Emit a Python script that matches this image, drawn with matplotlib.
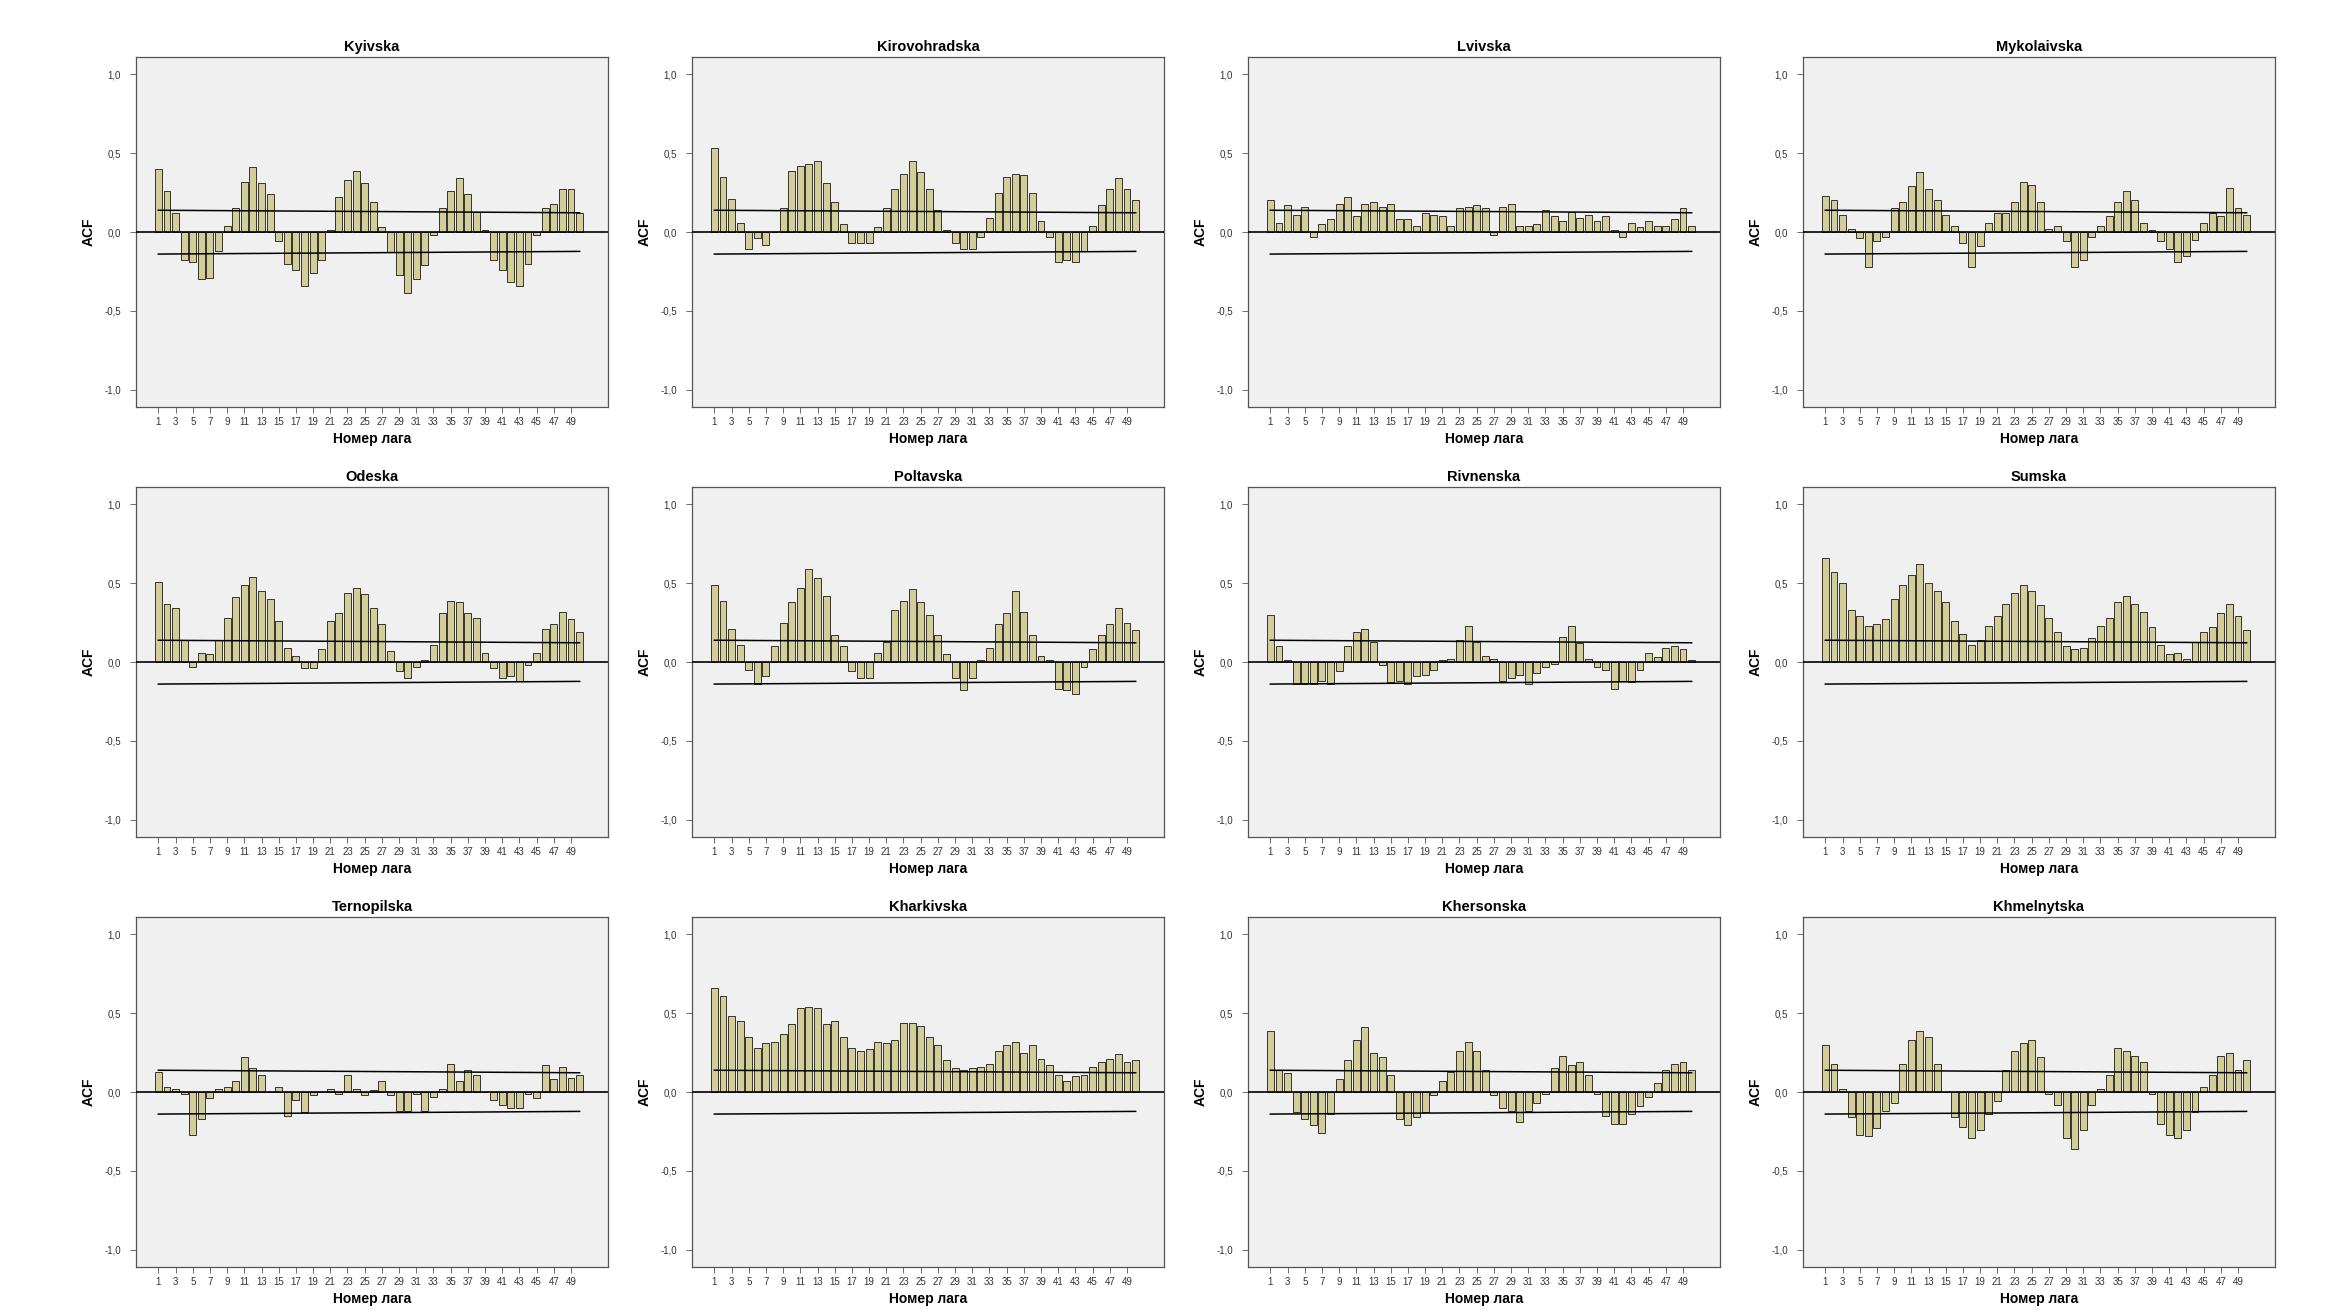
import numpy as np
import matplotlib
matplotlib.use("Agg")
import matplotlib.pyplot as plt

plt.rcParams['font.family'] = ['Liberation Sans', 'DejaVu Sans']

# lag numbers (categories)
lags = list(range(1, 51))
tick_lags = list(range(1, 50, 2))

# ACF values, lag 1..50
kyivska = [0.40, 0.26, 0.12, -0.18, -0.19, -0.30, -0.29, -0.12, 0.04, 0.15,
           0.32, 0.41, 0.31, 0.24, -0.06, -0.20, -0.24, -0.34, -0.26, -0.18,
           0.01, 0.22, 0.33, 0.39, 0.31, 0.19, 0.03, -0.13, -0.27, -0.39,
           -0.30, -0.21, -0.02, 0.15, 0.26, 0.34, 0.24, 0.13, 0.01, -0.18,
           -0.24, -0.32, -0.34, -0.20, -0.02, 0.15, 0.18, 0.27, 0.27, 0.12]
kirovohradska = [0.53, 0.35, 0.21, 0.06, -0.11, -0.04, -0.08, 0.00, 0.15, 0.39,
                 0.42, 0.43, 0.45, 0.31, 0.19, 0.05, -0.07, -0.07, -0.07, 0.03,
                 0.15, 0.27, 0.37, 0.45, 0.38, 0.27, 0.14, 0.01, -0.07, -0.11,
                 -0.11, -0.03, 0.09, 0.25, 0.35, 0.37, 0.36, 0.25, 0.07, -0.03,
                 -0.19, -0.18, -0.19, -0.12, 0.04, 0.17, 0.27, 0.34, 0.27, 0.20]
lvivska = [0.20, 0.06, 0.17, 0.11, 0.16, -0.03, 0.05, 0.08, 0.18, 0.22,
           0.10, 0.18, 0.19, 0.16, 0.18, 0.08, 0.08, 0.04, 0.12, 0.11,
           0.10, 0.04, 0.15, 0.16, 0.17, 0.15, -0.02, 0.16, 0.18, 0.04,
           0.04, 0.05, 0.14, 0.10, 0.07, 0.13, 0.09, 0.11, 0.07, 0.10,
           0.01, -0.03, 0.06, 0.03, 0.07, 0.04, 0.04, 0.08, 0.15, 0.04]
mykolaivska = [0.23, 0.20, 0.11, 0.02, -0.04, -0.22, -0.06, -0.03, 0.15, 0.19,
               0.29, 0.38, 0.27, 0.20, 0.11, 0.04, -0.07, -0.22, -0.09, 0.06,
               0.12, 0.12, 0.19, 0.32, 0.30, 0.19, 0.02, 0.04, -0.06, -0.22,
               -0.18, -0.03, 0.04, 0.10, 0.19, 0.26, 0.20, 0.06, 0.01, -0.06,
               -0.11, -0.19, -0.15, -0.05, 0.06, 0.12, 0.10, 0.28, 0.15, 0.11]
odeska = [0.51, 0.37, 0.34, 0.14, -0.03, 0.06, 0.05, 0.14, 0.28, 0.41,
          0.49, 0.54, 0.45, 0.40, 0.26, 0.09, 0.04, -0.04, -0.04, 0.08,
          0.26, 0.31, 0.44, 0.47, 0.43, 0.34, 0.24, 0.07, -0.06, -0.10,
          -0.03, 0.01, 0.11, 0.31, 0.39, 0.38, 0.31, 0.28, 0.06, -0.04,
          -0.10, -0.09, -0.12, -0.02, 0.06, 0.21, 0.24, 0.32, 0.27, 0.19]
poltavska = [0.49, 0.39, 0.21, 0.11, -0.05, -0.14, -0.09, 0.10, 0.25, 0.38,
             0.47, 0.59, 0.53, 0.42, 0.17, 0.10, -0.06, -0.10, -0.10, 0.06,
             0.13, 0.33, 0.39, 0.46, 0.38, 0.30, 0.17, 0.05, -0.10, -0.18,
             -0.10, 0.01, 0.09, 0.24, 0.31, 0.45, 0.32, 0.17, 0.04, 0.01,
             -0.17, -0.18, -0.20, -0.03, 0.08, 0.17, 0.24, 0.34, 0.25, 0.20]
rivnenska = [0.30, 0.10, 0.01, -0.14, -0.14, -0.14, -0.12, -0.14, -0.06, 0.10,
             0.19, 0.21, 0.13, -0.02, -0.13, -0.12, -0.14, -0.09, -0.08, -0.05,
             0.01, 0.02, 0.14, 0.23, 0.13, 0.04, 0.02, -0.12, -0.10, -0.08,
             -0.14, -0.07, -0.03, -0.01, 0.16, 0.23, 0.12, 0.02, -0.03, -0.05,
             -0.17, -0.12, -0.13, -0.05, 0.06, 0.03, 0.09, 0.10, 0.08, 0.01]
sumska = [0.66, 0.57, 0.50, 0.33, 0.29, 0.23, 0.24, 0.27, 0.40, 0.49,
          0.55, 0.62, 0.50, 0.45, 0.38, 0.26, 0.18, 0.11, 0.14, 0.23,
          0.29, 0.37, 0.44, 0.49, 0.45, 0.36, 0.28, 0.19, 0.10, 0.08,
          0.09, 0.15, 0.23, 0.28, 0.38, 0.42, 0.37, 0.32, 0.22, 0.11,
          0.05, 0.06, 0.02, 0.13, 0.19, 0.22, 0.31, 0.37, 0.29, 0.20]
ternopilska = [0.13, 0.03, 0.02, -0.01, -0.27, -0.17, -0.04, 0.02, 0.03, 0.07,
               0.22, 0.15, 0.11, 0.00, 0.03, -0.15, -0.05, -0.13, -0.02, 0.00,
               0.02, -0.01, 0.11, 0.02, -0.02, 0.01, 0.07, -0.02, -0.12, -0.12,
               -0.01, -0.12, -0.03, 0.02, 0.18, 0.07, 0.14, 0.11, 0.00, -0.05,
               -0.08, -0.10, -0.10, -0.01, -0.04, 0.17, 0.08, 0.16, 0.09, 0.11]
kharkivska = [0.66, 0.61, 0.48, 0.45, 0.35, 0.28, 0.31, 0.32, 0.37, 0.43,
              0.53, 0.54, 0.53, 0.43, 0.45, 0.35, 0.28, 0.26, 0.27, 0.32,
              0.31, 0.33, 0.44, 0.44, 0.42, 0.35, 0.30, 0.20, 0.15, 0.14,
              0.15, 0.16, 0.18, 0.26, 0.30, 0.32, 0.25, 0.30, 0.21, 0.17,
              0.11, 0.07, 0.10, 0.11, 0.16, 0.19, 0.21, 0.24, 0.19, 0.20]
khersonska = [0.39, 0.14, 0.12, -0.13, -0.17, -0.21, -0.26, -0.14, 0.08, 0.20,
              0.33, 0.41, 0.25, 0.22, 0.11, -0.17, -0.21, -0.16, -0.13, -0.02,
              0.07, 0.13, 0.26, 0.32, 0.26, 0.14, -0.02, -0.10, -0.12, -0.19,
              -0.12, -0.07, -0.01, 0.15, 0.23, 0.17, 0.19, 0.11, -0.01, -0.15,
              -0.20, -0.20, -0.14, -0.09, -0.03, 0.06, 0.14, 0.18, 0.19, 0.14]
khmelnytska = [0.30, 0.18, 0.02, -0.16, -0.27, -0.28, -0.23, -0.12, -0.07, 0.18,
               0.33, 0.39, 0.35, 0.18, 0.00, -0.16, -0.22, -0.29, -0.24, -0.14,
               -0.06, 0.14, 0.26, 0.31, 0.33, 0.22, -0.01, -0.08, -0.29, -0.36,
               -0.24, -0.08, 0.02, 0.11, 0.28, 0.26, 0.23, 0.19, -0.01, -0.20,
               -0.27, -0.29, -0.24, -0.13, 0.03, 0.11, 0.23, 0.25, 0.14, 0.20]

titles = ["Kyivska", "Kirovohradska", "Lvivska", "Mykolaivska",
          "Odeska", "Poltavska", "Rivnenska", "Sumska",
          "Ternopilska", "Kharkivska", "Khersonska", "Khmelnytska"]
series = [kyivska, kirovohradska, lvivska, mykolaivska,
          odeska, poltavska, rivnenska, sumska,
          ternopilska, kharkivska, khersonska, khmelnytska]

# confidence limits (start at lag 1, end at lag 50)
conf_x = [1, 50]
conf_upper = [0.138, 0.122]
conf_lower = [-0.140, -0.123]

y_ticks = [1.0, 0.5, 0.0, -0.5, -1.0]
y_ticklabels = ["1,0", "0,5", "0,0", "-0,5", "-1,0"]

W, H = 2336, 1315
fig = plt.figure(figsize=(W / 100, H / 100), dpi=100)
fig.patch.set_facecolor("white")

col_left = [136, 692, 1248, 1803]
row_top = [57, 487, 917]
ax_w, ax_h = 472, 350

BAR_COLOR = "#D3CE98"


def plot_acf(ax, values, title):
    ax.set_facecolor("#F0F0F0")
    ax.bar(lags, values, width=0.8, color=BAR_COLOR, edgecolor="#333333",
           linewidth=0.7, zorder=2)
    ax.axhline(0, color="black", lw=1.2, zorder=3)
    ax.plot(conf_x, conf_upper, color="black", lw=1.1, zorder=3)
    ax.plot(conf_x, conf_lower, color="black", lw=1.1, zorder=3)

    ax.set_xlim(-1.6, 53.3)
    ax.set_ylim(-1.11, 1.11)
    ax.set_xticks(tick_lags)
    ax.set_xticklabels([str(t) for t in tick_lags], fontsize=7)
    ax.set_yticks(y_ticks)
    ax.set_yticklabels(y_ticklabels, fontsize=7)
    ax.tick_params(axis="x", length=4, width=0.6, color="#555555",
                   pad=3, labelcolor="#333333")
    ax.tick_params(axis="y", length=4, width=0.6, color="#555555",
                   pad=7, labelcolor="#333333")
    for s in ax.spines.values():
        s.set_color("#555555")
        s.set_linewidth(0.9)

    ax.set_title(title, fontsize=10.5, fontweight="bold", pad=4)
    ax.set_xlabel("Номер лага", fontsize=10, fontweight="bold", labelpad=4)
    ax.set_ylabel("ACF", fontsize=10, fontweight="bold", labelpad=6)


for i, (vals, title) in enumerate(zip(series, titles)):
    r, c = divmod(i, 4)
    left = col_left[c] / W
    bottom = 1 - (row_top[r] + ax_h) / H
    ax = fig.add_axes([left, bottom, ax_w / W, ax_h / H])
    plot_acf(ax, vals, title)

fig.savefig("out.png", dpi=100, facecolor="white")
